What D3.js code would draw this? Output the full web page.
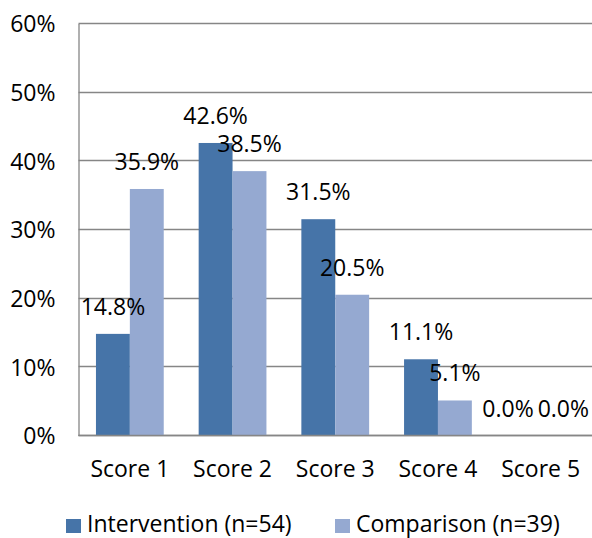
<!DOCTYPE html>
<html>
<head>
<meta charset="utf-8">
<script src="https://cdn.jsdelivr.net/npm/d3@7"></script>
<style>
  html, body { margin: 0; padding: 0; background: #fff; }
  svg text { font-family: "Open Sans", "Noto Sans", sans-serif; fill: #000; }
</style>
</head>
<body>
<svg id="chart" width="592" height="538"></svg>
<script>
// Score distribution by group
const categories = ["Score 1", "Score 2", "Score 3", "Score 4", "Score 5"];
const seriesNames = ["Intervention (n=54)", "Comparison (n=39)"];
const intervention = [14.8, 42.6, 31.5, 11.1, 0.0];
const comparison = [35.9, 38.5, 20.5, 5.1, 0.0];
const yTicks = [0, 10, 20, 30, 40, 50, 60];
const colors = ["#4674A8", "#95A9D1"];

const FONT = 23;
const svg = d3.select("#chart");
const margin = { left: 78.5, right: 0, top: 23.5, bottom: 102.5 };
const W = 592, H = 538;
const plotW = W - margin.left - margin.right;
const plotH = H - margin.top - margin.bottom;

const x = d3.scaleBand().domain(categories).range([0, plotW]).paddingInner(0.34).paddingOuter(0.17);
const xInner = d3.scaleBand().domain([0, 1]).range([0, x.bandwidth()]);
const y = d3.scaleLinear().domain([0, 60]).range([plotH, 0]);

const g = svg.append("g").attr("transform", `translate(${margin.left},${margin.top})`);

// horizontal gridlines
g.append("g")
  .selectAll("line")
  .data(yTicks)
  .join("line")
  .attr("x1", 0).attr("x2", plotW)
  .attr("y1", d => Math.round(y(d))).attr("y2", d => Math.round(y(d)))
  .attr("stroke", "#868686").attr("stroke-width", 1.3);

// y axis labels
const yAxis = d3.axisLeft(y).tickValues(yTicks).tickFormat(d => d + "%").tickSize(0).tickPadding(23);
const ya = g.append("g").call(yAxis);
ya.select(".domain").attr("stroke", "#868686").attr("stroke-width", 1.3);
ya.selectAll("text").attr("font-size", FONT).attr("font-family", "'Open Sans', sans-serif").attr("dy", "0.36em");

// bars
const series = [intervention, comparison];
const barLayer = g.append("g");
const labelLayer = g.append("g");
const labelSel = [];
series.forEach((vals, si) => {
  barLayer.append("g").selectAll("rect")
    .data(vals)
    .join("rect")
    .attr("x", (d, i) => x(categories[i]) + xInner(si))
    .attr("width", xInner.bandwidth())
    .attr("y", d => y(d))
    .attr("height", d => plotH - y(d))
    .attr("fill", colors[si]);
});

// redraw the baseline over the bars
g.append("line")
  .attr("x1", 0).attr("x2", plotW)
  .attr("y1", Math.round(y(0))).attr("y2", Math.round(y(0)))
  .attr("stroke", "#868686").attr("stroke-width", 1.3);

// value labels on top of every bar
labelLayer.raise();
series.forEach((vals, si) => {
  labelSel.push(labelLayer.append("g").selectAll("text")
    .data(vals)
    .join("text")
    .attr("x", (d, i) => x(categories[i]) + xInner(si) + xInner.bandwidth() / 2)
    .attr("y", d => y(d) - 19)
    .attr("text-anchor", "middle")
    .attr("font-size", FONT)
    .text(d => d.toFixed(1) + "%"));
});

// push apart value labels that collide within a category
const capH = FONT * 0.72;
categories.forEach((c, i) => {
  const a = labelSel[0].nodes()[i], b = labelSel[1].nodes()[i];
  const ba = a.getBBox(), bb = b.getBBox();
  const vOverlap = Math.abs(+a.getAttribute("y") - +b.getAttribute("y")) < capH;
  const hOverlap = ba.x + ba.width + 4 - bb.x;
  if (vOverlap && hOverlap > 0) {
    let ax = +a.getAttribute("x") - hOverlap / 2;
    let bx = +b.getAttribute("x") + hOverlap / 2;
    const over = bx + bb.width / 2 - (plotW - 3);
    if (over > 0) { ax -= over; bx -= over; }
    a.setAttribute("x", ax);
    b.setAttribute("x", bx);
  }
});

// category labels
const xAxis = d3.axisBottom(x).tickSize(0);
const xa = g.append("g").attr("transform", `translate(0,${plotH})`).call(xAxis);
xa.select(".domain").remove();
xa.selectAll("text").attr("font-size", FONT).attr("font-family", "'Open Sans', sans-serif")
  .attr("y", 41.5).attr("dy", null);

// legend
const legendX = [66, 335];
const leg = svg.append("g");
seriesNames.forEach((name, i) => {
  leg.append("rect").attr("x", legendX[i]).attr("y", 519).attr("width", 15).attr("height", 14).attr("fill", colors[i]);
  leg.append("text").attr("x", legendX[i] + 21).attr("y", 531.5).attr("font-size", FONT).text(name);
});
</script>
</body>
</html>
